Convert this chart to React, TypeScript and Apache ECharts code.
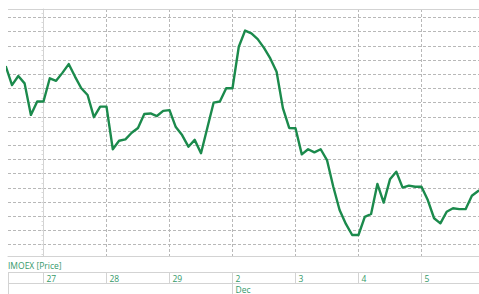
import React, { useEffect, useRef } from "react";
import * as echarts from "echarts";

// Hourly slots: 10 slots per trading day; slot 0 = start of the 27th
const firstSlot = -6;
const prices: number[] = [
  2972.9, 2966.2, 2969.4, 2966.8, 2955.7, 2960.4,
  2960.4, 2968.6, 2967.7, 2970.5, 2973.6, 2969.2, 2965.1, 2962.7, 2954.9, 2958.6,
  2958.6, 2943.6, 2946.6, 2947.1, 2949.4, 2951.1, 2956.0, 2956.2, 2955.3, 2957.1,
  2957.4, 2951.4, 2948.6, 2944.5, 2946.9, 2942.2, 2951.1, 2960.0, 2960.4, 2965.1,
  2965.1, 2979.7, 2985.4, 2984.4, 2982.4, 2979.3, 2975.6, 2970.9, 2958.1, 2951.1,
  2951.0, 2941.8, 2943.6, 2942.5, 2943.6, 2939.8, 2930.4, 2922.2, 2917.3, 2913.4,
  2913.4, 2919.8, 2920.8, 2931.4, 2924.8, 2933.0, 2935.7, 2930.1, 2930.8, 2930.4,
  2930.4, 2925.7, 2919.3, 2917.5, 2921.6, 2922.8, 2922.5, 2922.5, 2927.2, 2928.9,
  2930.0,
];
const dayLabels: string[] = ["27", "28", "29", "2", "3", "4", "5"];
const dayStarts: number[] = [0, 10, 20, 30, 40, 50, 60];
const monthLabels: string[] = ["Dec"];
const monthStarts: number[] = [30];
const seriesName = "IMOEX [Price]";

const xMin = -5.635;
const xMax = 69.13;
const yMin = 2906;
const yMax = 2993;

const W = 479;
const H = 294;
const lineColor = "#1b8a4c";
const textColor = "#34996a";
const borderColor = "#d3d3d3";
const gridColor = "#b8b8b8";
const FONT = '"Open Sans", sans-serif';

export default function App() {
  const ref = useRef<HTMLDivElement>(null);
  useEffect(() => {
    if (!ref.current) return;
    const chart = echarts.init(ref.current, null, { renderer: "svg" });
    const data = prices.map((p, i) => [i + firstSlot, p]);
    chart.setOption({
      animation: false,
      backgroundColor: "#ffffff",
      grid: { left: 8, right: 0, top: 9, bottom: 38, containLabel: false },
      xAxis: {
        type: "value",
        min: xMin,
        max: xMax,
        splitNumber: 7,
        minInterval: 10,
        maxInterval: 10,
        axisLine: { show: true, lineStyle: { color: borderColor, width: 1 } },
        axisTick: { show: false },
        axisLabel: { show: false },
        splitLine: {
          show: true,
          showMinLine: false,
          showMaxLine: false,
          lineStyle: { color: gridColor, type: [3, 2], width: 1 },
        },
      },
      yAxis: {
        type: "value",
        min: yMin,
        max: yMax,
        splitNumber: 17,
        minInterval: 5,
        maxInterval: 5,
        axisLine: { show: true, lineStyle: { color: borderColor, width: 1 } },
        axisTick: { show: true, length: 2, lineStyle: { color: "#cfcfcf" } },
        minorTick: { show: true, splitNumber: 3, length: 2, lineStyle: { color: "#dadada" } },
        axisLabel: { show: false },
        splitLine: {
          show: true,
          showMinLine: false,
          showMaxLine: false,
          lineStyle: { color: gridColor, type: [3, 2], width: 1 },
        },
      },
      series: [
        {
          name: seriesName,
          type: "line",
          data,
          showSymbol: false,
          clip: true,
          lineStyle: { color: lineColor, width: 2.4, join: "round" },
          itemStyle: { color: lineColor },
          z: 5,
        },
      ],
    });

    const px = (v: number) => chart.convertToPixel({ xAxisIndex: 0 }, v) as number;
    const crisp = (v: number) => Math.round(v) + 0.5;
    const lineStyle = { stroke: borderColor, lineWidth: 1 };
    const rowTop = 272.5;
    const rowMid = 283.5;
    const textStyle = { fill: textColor, fontSize: 8.5, fontFamily: FONT, align: "left", verticalAlign: "middle" };
    const els: any[] = [
      { type: "line", shape: { x1: 8, y1: 9.5, x2: W, y2: 9.5 }, style: lineStyle },
      { type: "text", x: 8, y: 265, style: { ...textStyle, text: seriesName } },
      { type: "line", shape: { x1: 8, y1: rowTop, x2: W, y2: rowTop }, style: lineStyle },
      { type: "line", shape: { x1: 8, y1: rowMid, x2: W, y2: rowMid }, style: lineStyle },
      { type: "line", shape: { x1: 8.5, y1: rowTop, x2: 8.5, y2: H }, style: lineStyle },
    ];
    dayStarts.forEach((d, i) => {
      const x = crisp(px(d));
      els.push({ type: "line", shape: { x1: x, y1: rowTop, x2: x, y2: rowMid }, style: lineStyle });
      els.push({ type: "text", x: x + 3, y: 278.5, style: { ...textStyle, text: dayLabels[i] } });
    });
    monthStarts.forEach((m, i) => {
      const x = crisp(px(m));
      els.push({ type: "line", shape: { x1: x, y1: rowMid, x2: x, y2: H }, style: lineStyle });
      els.push({ type: "text", x: x + 3, y: 289.5, style: { ...textStyle, text: monthLabels[i] } });
    });
    chart.setOption({ graphic: els });
    return () => chart.dispose();
  }, []);
  return (
    <div
      ref={ref}
      style={{ position: "fixed", left: 0, top: 0, width: W, height: H, background: "#fff" }}
    />
  );
}
